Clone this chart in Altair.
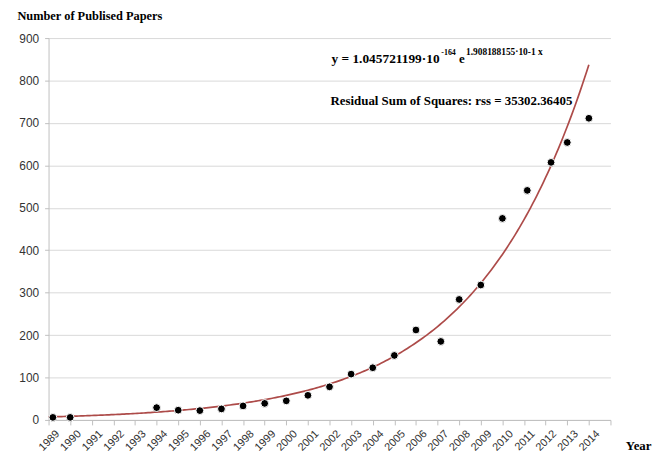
import altair as alt
import pandas as pd
import numpy as np

years = [1989.2, 1990, 1994, 1995, 1996, 1997, 1998, 1999, 2000, 2001, 2002,
         2003, 2004, 2005, 2006, 2007.15, 2008, 2009, 2010, 2011.15, 2012.25, 2013, 2014]
papers = [6, 6, 29, 23, 22, 26, 33, 39, 45, 58, 78,
          108, 123, 152, 212, 185, 284, 318, 475, 541, 607, 654, 711]

# Fitted model printed on the chart: y = A * exp(B * x)
fit_A = 1.045721199e-164
fit_B = 1.908188155e-1
fit_years = np.round(np.arange(1989, 2014.001, 0.1), 2)
fit_vals = fit_A * np.exp(fit_B * fit_years)

tick_years = list(range(1989, 2016))
y_ticks = list(range(0, 1000, 100))

eq_main = "y = 1.045721199·10"
eq_sup1 = "-164"
eq_e = "e"
eq_sup2 = "1.908188155·10-1 x"
rss_text = "Residual Sum of Squares: rss = 35302.36405"

obs = pd.DataFrame({"year": years, "papers": papers})
fit = pd.DataFrame({"year": fit_years, "papers": fit_vals})

SERIF = "Liberation Serif"
SANS = "Liberation Sans"

x_axis = alt.Axis(
    values=tick_years,
    format="d",
    labelExpr="datum.value == 2015 ? '' : datum.label",
    labelAngle=315,
    labelAlign="right",
    labelBaseline="middle",
    labelFont=SANS,
    labelFontSize=11,
    labelColor="#333333",
    labelPadding=7,
    labelOffset=9,
    labelOverlap=False,
    labelBound=False,
    grid=False,
    domainColor="#bfbfbf",
    tickColor="#bfbfbf",
    tickSize=5,
    title="Year",
    titleFont=SERIF,
    titleFontSize=13,
    titleFontWeight="bold",
    titleColor="#000000",
    titleAngle=0,
    titleAlign="left",
    titleBaseline="alphabetic",
    titleX=583,
    titleY=30,
)

y_axis = alt.Axis(
    values=y_ticks,
    labelFont=SANS,
    labelFontSize=12,
    labelColor="#333333",
    labelPadding=6,
    labelOverlap=False,
    grid=True,
    gridColor="#d9d9d9",
    domainColor="#bfbfbf",
    tickColor="#bfbfbf",
    tickSize=4,
    title="Number of Publised Papers",
    titleFont=SERIF,
    titleFontSize=12.5,
    titleFontWeight="bold",
    titleColor="#000000",
    titleAngle=0,
    titleAlign="left",
    titleBaseline="alphabetic",
    titleX=-32,
    titleY=-19,
)

x_enc = alt.X("year:Q", scale=alt.Scale(domain=[1989, 2015], nice=False, zero=False), axis=x_axis)
y_enc = alt.Y("papers:Q", scale=alt.Scale(domain=[0, 900], nice=False), axis=y_axis)

curve = alt.Chart(fit).mark_line(color="#ad4b49", strokeWidth=1.7).encode(x=x_enc, y=y_enc)

points = alt.Chart(obs).mark_point(
    filled=True, shape="circle", size=62, color="#000000",
    stroke="#ffffff", strokeWidth=1, opacity=1
).encode(x=x_enc, y=y_enc)


def label(txt, px, py, size):
    return alt.Chart(pd.DataFrame({"t": [txt]})).mark_text(
        font=SERIF, fontSize=size, fontWeight="bold", color="#000000",
        align="left", baseline="alphabetic"
    ).encode(x=alt.value(px), y=alt.value(py), text="t:N")


texts = (
    label(eq_main, 286, 25, 13.5)
    + label(eq_sup1, 397, 17, 8)
    + label(eq_e, 415, 25, 13)
    + label(eq_sup2, 422, 17, 9.5)
    + label(rss_text, 285, 68, 13)
)

chart = alt.layer(curve, points, texts).properties(
    width=568,
    height=386,
    padding={"left": 41, "top": 28, "right": 44, "bottom": 30},
    autosize=alt.AutoSizeParams(type="none"),
    background="#ffffff",
).configure_view(stroke=None).configure_axisX(labelOverlap=False)

chart.save("out.html", embed_options={"renderer": "svg", "actions": False})
